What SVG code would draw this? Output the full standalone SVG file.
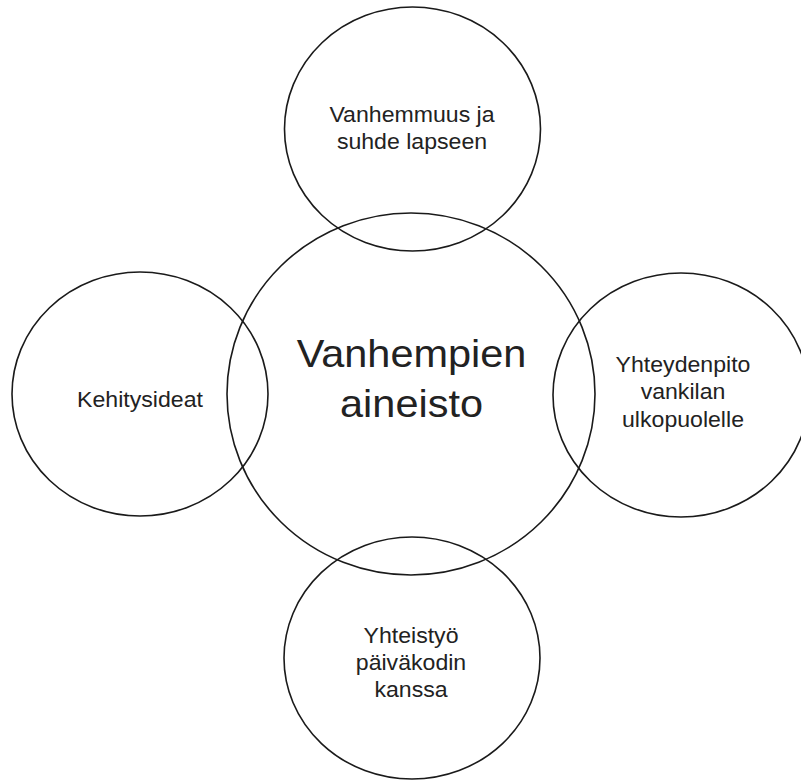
<svg xmlns="http://www.w3.org/2000/svg" width="801" height="780" viewBox="0 0 801 780">
<style>
.c{fill:none;stroke:#1a1a1a;stroke-width:1.6}
.t{font-family:"Liberation Sans",Arial,sans-serif;font-size:22px;fill:#222;text-anchor:middle}
.big{font-size:39.5px}
</style>
<rect width="801" height="780" fill="#fff"/>
<g id="node-top">
<ellipse class="c" cx="412.5" cy="129" rx="128" ry="122"/>
<g transform="translate(412,0) scale(1.05,1)">
<text class="t" x="0" y="122">Vanhemmuus ja</text>
<text class="t" x="0" y="149">suhde lapseen</text>
</g>
</g>
<g id="node-left">
<ellipse class="c" cx="140" cy="394" rx="128" ry="122"/>
<g transform="translate(140,0) scale(1.05,1)">
<text class="t" x="0" y="407">Kehitysideat</text>
</g>
</g>
<g id="node-right">
<ellipse class="c" cx="681" cy="395" rx="128" ry="122"/>
<g transform="translate(683,0) scale(1.05,1)">
<text class="t" x="0" y="372">Yhteydenpito</text>
<text class="t" x="0" y="399">vankilan</text>
<text class="t" x="0" y="427">ulkopuolelle</text>
</g>
</g>
<g id="node-bottom">
<ellipse class="c" cx="412" cy="658" rx="128" ry="121"/>
<g transform="translate(411,0) scale(1.05,1)">
<text class="t" x="0" y="643">Yhteistyö</text>
<text class="t" x="0" y="670">päiväkodin</text>
<text class="t" x="0" y="697">kanssa</text>
</g>
</g>
<g id="node-center">
<ellipse class="c" cx="411" cy="394" rx="184" ry="181"/>
<g transform="translate(411.5,0) scale(1.05,1)">
<text class="t big" x="0" y="367">Vanhempien</text>
<text class="t big" x="0" y="417">aineisto</text>
</g>
</g>
</svg>
